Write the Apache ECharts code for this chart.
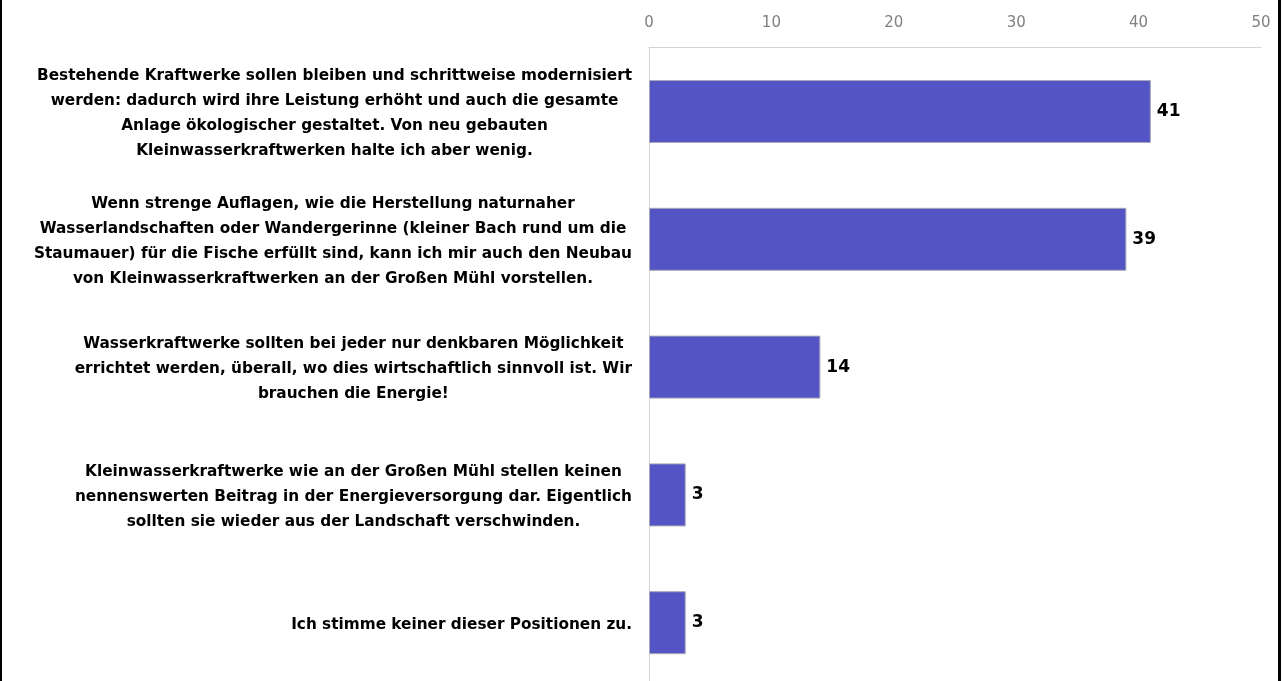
<!DOCTYPE html>
<html>
<head>
<meta charset="utf-8">
<title>Kleinwasserkraftwerke</title>
<script src="https://cdn.jsdelivr.net/npm/echarts@6/dist/echarts.min.js"></script>
<style>
  html, body { margin: 0; padding: 0; background: #fff; }
  #chart { position: absolute; left: 0; top: 0; width: 1284px; height: 681px; }
  .edge { position: absolute; top: 0; height: 681px; background: #000; }
</style>
</head>
<body>
<div id="chart"></div>
<div class="edge" style="left:0;width:2px"></div>
<div class="edge" style="left:1278px;width:3px"></div>
<script>
// categories (top to bottom), line breaks as in the original
const categories = [
  'Bestehende Kraftwerke sollen bleiben und schrittweise modernisiert\nwerden: dadurch wird ihre Leistung erhöht und auch die gesamte\nAnlage ökologischer gestaltet. Von neu gebauten\nKleinwasserkraftwerken halte ich aber wenig.',
  'Wenn strenge Auflagen, wie die Herstellung naturnaher\nWasserlandschaften oder Wandergerinne (kleiner Bach rund um die\nStaumauer) für die Fische erfüllt sind, kann ich mir auch den Neubau\nvon Kleinwasserkraftwerken an der Großen Mühl vorstellen.',
  'Wasserkraftwerke sollten bei jeder nur denkbaren Möglichkeit\nerrichtet werden, überall, wo dies wirtschaftlich sinnvoll ist. Wir\nbrauchen die Energie!',
  'Kleinwasserkraftwerke wie an der Großen Mühl stellen keinen\nnennenswerten Beitrag in der Energieversorgung dar. Eigentlich\nsollten sie wieder aus der Landschaft verschwinden.',
  'Ich stimme keiner dieser Positionen zu.'
]
const values = [41, 39, 14, 3, 3]

const chart = echarts.init(document.getElementById('chart'))
chart.setOption({
  backgroundColor: '#ffffff',
  animation: false,
  textStyle: {
    fontFamily: 'DejaVu Sans'
  },
  grid: {
    left: 649,
    width: 612,
    top: 47.6,
    height: 639,
    outerBoundsMode: 'none'
  },
  xAxis: {
    type: 'value',
    position: 'top',
    min: 0,
    max: 50,
    interval: 10,
    axisLine: {
      show: true,
      lineStyle: { color: '#d4d4d4', width: 1 }
    },
    axisTick: { show: false },
    splitLine: { show: false },
    axisLabel: {
      color: '#808080',
      fontSize: 15,
      margin: 17
    }
  },
  yAxis: {
    type: 'category',
    inverse: true,
    data: categories,
    axisLine: {
      show: true,
      lineStyle: { color: '#d4d4d4', width: 1 }
    },
    axisTick: { show: false },
    axisLabel: {
      margin: 17,
      formatter: function(v) {
        return '{c|' + v + '}'
      },
      rich: {
        c: {
          align: 'center',
          color: '#000000',
          fontWeight: 'bold',
          fontSize: 15.3,
          lineHeight: 25,
          fontFamily: 'DejaVu Sans',
          padding: [4, 0, 0, 0]
        }
      }
    }
  },
  series: [{
    type: 'bar',
    data: values,
    barWidth: 63,
    itemStyle: {
      color: '#5454c4',
      borderColor: '#a8a8b8',
      borderWidth: 1
    },
    label: {
      show: true,
      position: 'right',
      distance: 6,
      color: '#000000',
      fontWeight: 'bold',
      fontSize: 17
    }
  }]
})
</script>
</body>
</html>
